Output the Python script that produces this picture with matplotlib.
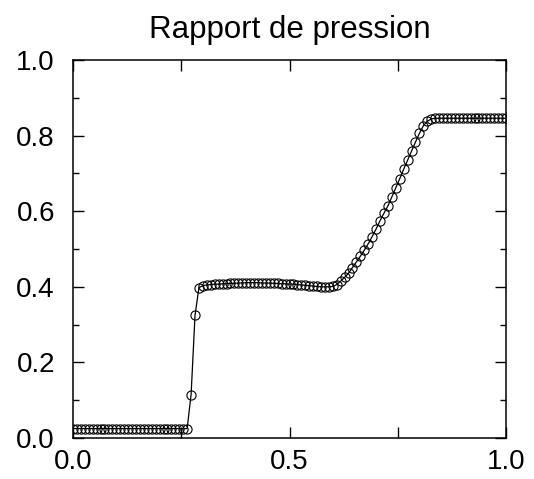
import numpy as np
import matplotlib
matplotlib.use("Agg")
import matplotlib.pyplot as plt
from matplotlib.ticker import MultipleLocator

# pressure ratio sampled on 111 points over [0, 1]
x = np.linspace(0.0, 1.0, 111)
low_plateau = [0.025] * 30                       # x = 0 .. 0.264
jump = [0.115, 0.325, 0.398]                     # x = 0.273 .. 0.291
mid_plateau = [0.403, 0.405, 0.406, 0.407, 0.407, 0.408, 0.408, 0.409, 0.409, 0.410,
               0.410, 0.411, 0.411, 0.411, 0.411, 0.410, 0.410, 0.410, 0.409, 0.409,
               0.408, 0.408, 0.407, 0.407, 0.406, 0.405, 0.404, 0.403, 0.402, 0.401,
               0.400, 0.400, 0.400, 0.401]       # x = 0.300 .. 0.600
ramp = [0.406, 0.415, 0.425, 0.436, 0.451, 0.466, 0.481, 0.497, 0.514, 0.533,
        0.553, 0.575, 0.595, 0.614, 0.638, 0.662, 0.686, 0.711, 0.735, 0.759,
        0.783, 0.806, 0.826, 0.838, 0.844]       # x = 0.609 .. 0.827
high_plateau = [0.846] * 19                      # x = 0.836 .. 1.0
pressure = np.array(low_plateau + jump + mid_plateau + ramp + high_plateau)

plt.rcParams['font.family'] = ['Liberation Sans', 'DejaVu Sans']

fig = plt.figure(figsize=(5.34, 4.79), dpi=100)
ax = fig.add_axes([0.1367, 0.0856, 0.8109, 0.7891])

ax.plot(x, pressure, color="black", lw=0.9, marker="o", ms=6.6,
        mfc="none", mec="black", mew=0.8)

ax.set_xlim(0, 1)
ax.set_ylim(0, 1)
ax.xaxis.set_major_locator(MultipleLocator(0.5))
ax.xaxis.set_minor_locator(MultipleLocator(0.25))
ax.yaxis.set_major_locator(MultipleLocator(0.2))
ax.yaxis.set_minor_locator(MultipleLocator(0.1))
ax.xaxis.set_major_formatter(lambda v, p: f"{v:.1f}")
ax.yaxis.set_major_formatter(lambda v, p: f"{v:.1f}")

ax.tick_params(which="both", direction="in", top=True, right=True, width=1.0, labelsize=20)
ax.tick_params(axis="x", which="both", length=8, pad=8)
ax.tick_params(axis="y", which="major", length=8, pad=13)
ax.tick_params(axis="y", which="minor", length=4.5)
for s in ax.spines.values():
    s.set_linewidth(1.1)

ax.set_title("Rapport de pression", fontsize=22.5, pad=16)

fig.savefig("out.png", dpi=100)
